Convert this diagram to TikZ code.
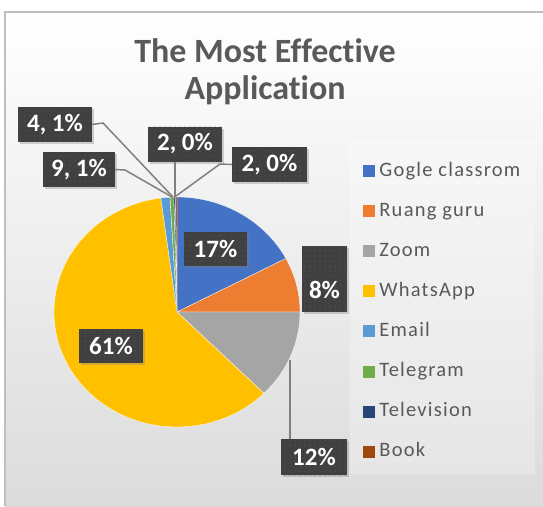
\documentclass[tikz,border=0pt]{standalone}
\usepackage{fontspec}
\setmainfont{Carlito}[Ligatures=NoCommon]
\usepackage{tikz}
\usetikzlibrary{positioning}
\usetikzlibrary{shadows}
\usetikzlibrary{patterns.meta}

\definecolor{gblue}{HTML}{4472C4}
\definecolor{gorange}{HTML}{ED7D31}
\definecolor{ggray}{HTML}{A5A5A5}
\definecolor{gyellow}{HTML}{FFC000}
\definecolor{glblue}{HTML}{5B9BD5}
\definecolor{ggreen}{HTML}{70AD47}
\definecolor{gdblue}{HTML}{264478}
\definecolor{gbrown}{HTML}{9E480E}
\definecolor{txtgray}{HTML}{595959}
\definecolor{lbldark}{HTML}{404040}
\definecolor{lbldot}{HTML}{5C5C5C}
\definecolor{leadgray}{HTML}{808080}

\tikzset{
	lblbox/.style={drop shadow={opacity=0.35, shadow xshift=2pt, shadow yshift=-2pt},
		preaction={fill=lbldark}, pattern={Dots[distance=5pt, radius=0.6pt]}, pattern color=lbldot,
		text=white, font=\fontsize{25}{29}\selectfont\bfseries, inner sep=0pt, minimum height=35},
	leader/.style={draw=leadgray, line width=1.5},
	legsq/.style={minimum size=12, inner sep=0pt},
	legtxt/.style={text=txtgray, font=\fontsize{20.5}{24}\selectfont\addfontfeatures{LetterSpace=6}, inner sep=0pt, text height=14, text depth=4}
}

\begin{document}
\begin{tikzpicture}[x=1pt, y=-1pt]
		\useasboundingbox (0,0) rectangle (543,506);
		\shade[top color=white, bottom color=black!14] (5,12) rectangle (543,506);
		\fill[white, opacity=0.25] (350,140) rectangle (535,474);
		\draw[black!25, line width=1.5] (543,12) -- (5,12) -- (5,506);

		\node[text=txtgray, font=\fontsize{34}{37}\selectfont\bfseries, align=center] (title) at (265,72) {The Most Effective\\Application};

		\begin{scope}[shift={(177,312)}, y=1pt]
			\foreach \a/\b/\c in {90/27.72/gblue, 27.72/0/gorange, 0/-45/ggray, -45/-262.44/gyellow,
				-262.44/-266.76/glblue, -266.76/-268.56/ggreen, -268.56/-269.28/gdblue, -269.28/-270/gbrown}
				\filldraw[fill=\c, draw=white, line width=0.3] (0,0) -- (\a:123 and 115) arc[start angle=\a, end angle=\b, x radius=123, y radius=115] -- cycle;
		\end{scope}

		\coordinate (k41) at (103,123);
		\coordinate (p41) at (173,197);
		\coordinate (k91) at (125,170);
		\coordinate (p91) at (172,197);
		\coordinate (p20a) at (175,197);
		\coordinate (k20b) at (220,164);
		\coordinate (p20b) at (176,196);
		\coordinate (p12) at (290,360);

		\path
		(55,124.5) node[lblbox, minimum width=74](l41) {4, 1\%}
		(79,169.5) node[lblbox, minimum width=72](l91) {9, 1\%}
		(185,144) node[lblbox, minimum width=74](l20a) {2, 0\%}
		(269.5,164.5) node[lblbox, minimum width=75](l20b) {2, 0\%}
		(215.5,249) node[lblbox, minimum width=63, minimum height=34](l17) {17\%}
		(324.5,279) node[lblbox, minimum width=45, minimum height=66, text height=46, text depth=8](l8) {8\%}
		(314,457) node[lblbox, minimum width=66, minimum height=36](l12) {12\%}
		(111,346) node[lblbox, minimum width=64, minimum height=34](l61) {61\%};

		\draw[leader] (l41.east) -- (k41) -- (p41);
		\draw[leader] (l91.east) -- (k91) -- (p91);
		\draw[leader] (l20a.south -| p20a) -- (p20a);
		\draw[leader] (l20b.west) -- (k20b) -- (p20b);
		\draw[leader] (l12.north -| p12) -- (p12);

		\foreach \n/\c [count=\i] in {Gogle classrom/gblue, Ruang guru/gorange, Zoom/ggray, WhatsApp/gyellow,
			Email/glblue, Telegram/ggreen, Television/gdblue, Book/gbrown}
		{
			\node[legsq, fill=\c] (sq\i) at (369,{171+40.1*(\i-1)}) {};
			\node[legtxt, right=4pt of sq\i] (lg\i) {\n};
		}
	\end{tikzpicture}
\end{document}
